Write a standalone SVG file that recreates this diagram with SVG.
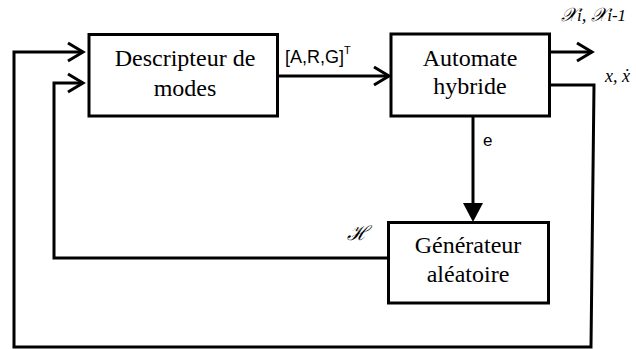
<svg xmlns="http://www.w3.org/2000/svg" width="636" height="349" viewBox="0 0 636 349">
<style>
.box{fill:#fff;stroke:#000;stroke-width:3}
.ln{fill:none;stroke:#000;stroke-width:3}
.chev{fill:none;stroke:#000;stroke-width:3;stroke-linejoin:miter}
.t{font-family:"Liberation Serif","Times New Roman",serif;font-size:24px;fill:#000;text-anchor:middle}
.s{font-family:"Liberation Sans",Arial,sans-serif;fill:#000}
.m{font-family:"Liberation Serif","DejaVu Serif",serif;font-style:italic;fill:#000}
</style>
<rect width="636" height="349" fill="#fff"/>
<g id="connectors">
  <polyline class="ln" points="550,85 594,85 591,347 14,347 14,52 83,52"/>
  <polyline class="chev" points="68,43 83,52 68,61"/>
  <polyline class="ln" points="388,258 54,258 54,83 83,83"/>
  <polyline class="chev" points="68,74 83,83 68,92"/>
  <line class="ln" x1="278" y1="76" x2="389" y2="76"/>
  <polyline class="chev" points="374,67 389,76 374,85"/>
  <line class="ln" x1="550" y1="52" x2="592" y2="52"/>
  <polyline class="chev" points="577,43 592,52 577,61"/>
  <line class="ln" x1="473" y1="116" x2="473" y2="206"/>
  <polygon points="463,203 483,203 473,222" fill="#000"/>
  <text class="s" x="285" y="63" font-size="18">[A,R,G]<tspan font-size="11" dy="-9">T</tspan></text>
  <text class="s" x="483" y="146" font-size="17">e</text>
  <text class="m" x="561" y="21" font-size="19">𝒳<tspan font-size="17">i</tspan>, 𝒳<tspan font-size="17">i-1</tspan></text>
  <text class="m" x="605" y="82" font-size="18">x, ẋ</text>
  <text class="m" x="347" y="240" font-size="20">ℋ</text>
</g>
<g id="descripteur">
  <rect class="box" x="89" y="34.5" width="188.5" height="81.5"/>
  <text class="t" x="185" y="66">Descripteur de</text>
  <text class="t" x="185" y="96">modes</text>
</g>
<g id="automate">
  <rect class="box" x="391" y="34" width="158.5" height="82"/>
  <text class="t" x="470" y="66">Automate</text>
  <text class="t" x="470" y="94">hybride</text>
</g>
<g id="generateur">
  <rect class="box" x="388.5" y="222.5" width="160" height="80.5"/>
  <text class="t" x="468" y="253">Générateur</text>
  <text class="t" x="468" y="282">aléatoire</text>
</g>
</svg>
